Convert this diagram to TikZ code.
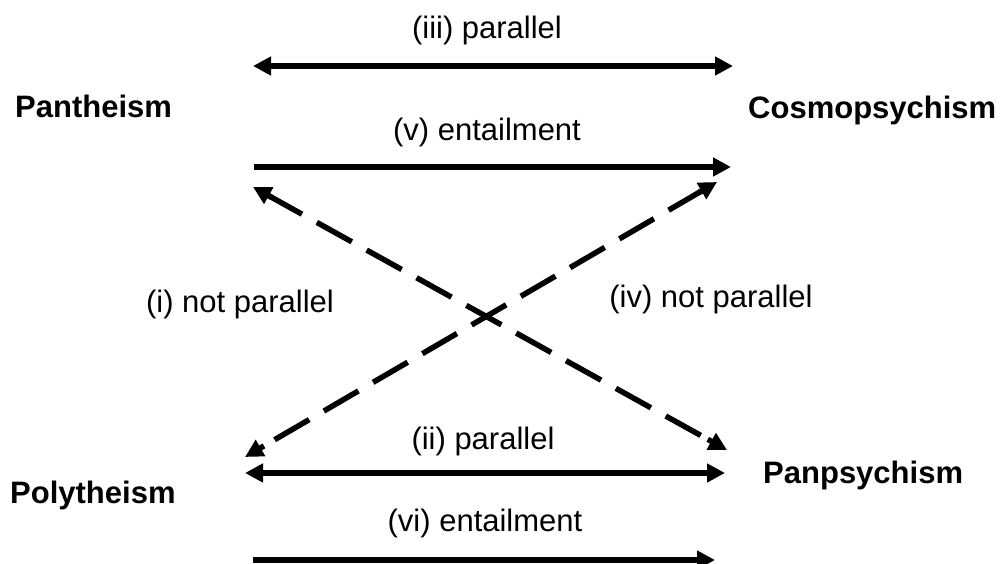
\documentclass[tikz,border=0pt]{standalone}
\usepackage{fontspec}
\setmainfont{Liberation Sans}
\usetikzlibrary{arrows.meta,calc}
\begin{document}
\begin{tikzpicture}[x=1pt,y=-1pt,
  lbl/.style={font=\fontsize{31}{37}\selectfont, anchor=base, inner sep=0pt},
  term/.style={font=\fontsize{31}{37}\selectfont\bfseries, anchor=base west, inner sep=0pt},
  conn/.style={line width=5.5pt, -{Triangle[length=18pt,width=18pt]}},
  bconn/.style={line width=5.5pt, {Triangle[length=18pt,width=18pt]}-{Triangle[length=18pt,width=18pt]}},
  dline/.style={line width=5.5pt, dash pattern=on 40pt off 17pt, shorten <=16pt, shorten >=16pt},
  tipc/.style={line width=5.5pt, solid, -{Triangle[length=18pt,width=18pt]}}]
\useasboundingbox (0,0) rectangle (1004,564);
% terms
\node[term] (pan) at (15,118) {Pantheism};
\node[term] (cos) at (748,119) {Cosmopsychism};
\node[term] (poly) at (10,503) {Polytheism};
\node[term] (panp) at (763,483) {Panpsychism};
% labels
\node[lbl] (l3) at (487,39) {(iii) parallel};
\node[lbl] (l5) at (487,141) {(v) entailment};
\node[lbl] (l1) at (240,312) {(i) not parallel};
\node[lbl] (l4) at (711,307) {(iv) not parallel};
\node[lbl] (l2) at (483,449) {(ii) parallel};
\node[lbl] (l6) at (485,531) {(vi) entailment};
% endpoints
\coordinate (a3) at (253,66);  \coordinate (b3) at (733,66);
\coordinate (a5) at (254,167); \coordinate (b5) at (731,167);
\coordinate (d1a) at (253,187); \coordinate (d1b) at (727,450);
\coordinate (d2a) at (717,182); \coordinate (d2b) at (245,457);
\coordinate (a2) at (245,473); \coordinate (b2) at (725,473);
\coordinate (a6) at (253,560); \coordinate (b6) at (715,560);
% connectors
\draw[bconn] (a3) -- (b3);
\draw[conn] (a5) -- (b5);
\draw[dline] (d1a) -- (d1b);
\draw[dline] (d2a) -- (d2b);
\draw[tipc] ($(d1a)!22pt!(d1b)$) -- (d1a);
\draw[tipc] ($(d1b)!22pt!(d1a)$) -- (d1b);
\draw[tipc] ($(d2a)!22pt!(d2b)$) -- (d2a);
\draw[tipc] ($(d2b)!22pt!(d2a)$) -- (d2b);
\draw[bconn] (a2) -- (b2);
\draw[conn] (a6) -- (b6);
\end{tikzpicture}
\end{document}
